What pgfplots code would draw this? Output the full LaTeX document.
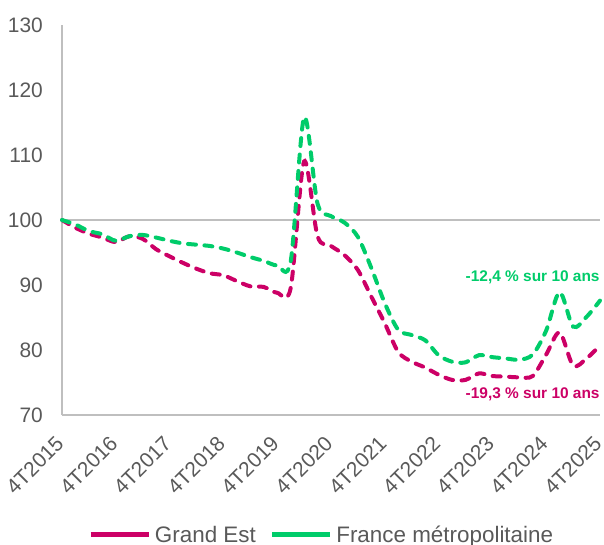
\documentclass[border=0pt]{standalone}
\usepackage{pgfplots}
\pgfplotsset{compat=1.18}
\usepackage{pgfplotstable}
\usepackage{fontspec}
\setmainfont{Liberation Sans}
\definecolor{ge}{HTML}{CC0066}
\definecolor{fr}{HTML}{00CC6A}
\definecolor{tickc}{HTML}{595959}
\definecolor{axc}{HTML}{BFBFBF}

\pgfplotstableread{
i ge fr
0 100 100
1 98.8 99.3
2 97.9 98.3
3 97.3 97.8
4 96.6 96.8
5 97.5 97.5
6 97.1 97.7
7 95.5 97.3
8 94.4 96.8
9 93.4 96.4
10 92.5 96.2
11 91.8 96.0
12 91.5 95.6
13 90.6 95.0
14 89.8 94.3
15 89.7 93.7
16 88.8 93.0
17 89.5 93.6
18 109.0 115.8
19 97.5 102.5
20 96.0 100.6
21 94.6 99.6
22 92.3 97.4
23 88.2 92.6
24 84.1 87.2
25 79.7 83.1
26 78.2 82.3
27 77.3 81.5
28 76.2 79.2
29 75.4 78.2
30 75.4 78.1
31 76.4 79.2
32 76.0 78.9
33 75.9 78.7
34 75.8 78.5
35 76.0 79.3
36 79.3 83.0
37 82.7 88.9
38 77.6 83.6
39 78.7 85.1
40 80.7 87.6
}\data

\begin{document}
\begin{tikzpicture}
\useasboundingbox (0,0) rectangle (604bp,545bp);
\begin{axis}[
  at={(62bp,130bp)}, anchor=south west,
  scale only axis, width=538bp, height=390bp,
  xmin=0, xmax=40, ymin=70, ymax=130,
  xtick={0,4,...,40},
  xticklabels={4T2015,4T2016,4T2017,4T2018,4T2019,4T2020,4T2021,4T2022,4T2023,4T2024,4T2025},
  ytick={70,80,...,130},
  axis x line*=bottom, axis y line*=left,
  axis line style={axc, line width=1.7bp, -},
  major tick length=0pt,
  tick style={draw=none},
  ticklabel style={font=\fontsize{21}{21}\selectfont, text=tickc},
  yticklabel style={anchor=east, inner sep=0pt, xshift=-19bp},
  xticklabel style={inner sep=0pt, xshift=-2bp, yshift=-25bp, rotate=45, anchor=east},
  /pgf/number format/assume math mode=true,
  clip=false,
  legend style={at={(0.481,-0.307)}, anchor=center, draw=none, fill=none,
    legend columns=-1, font=\fontsize{22.5}{22.5}\selectfont, text=tickc,
    nodes={inner sep=0pt},
    /tikz/every even column/.append style={column sep=14bp},
    /tikz/every odd column/.append style={column sep=4bp}},
  legend image code/.code={\draw[#1, solid, line width=4.5bp, line cap=butt] (0bp,0bp) -- (58bp,0bp);},
]
\addplot[axc, line width=2.7bp, forget plot] coordinates {(0,100) (40,100)};
\addplot[ge, line width=4bp, dash pattern=on 8bp off 8.5bp, line cap=round, smooth, tension=0.5] table[x=i,y=ge]{\data};
\addlegendentry{Grand Est}
\addplot[fr, line width=4bp, dash pattern=on 8bp off 8.5bp, line cap=round, smooth, tension=0.5] table[x=i,y=fr]{\data};
\addlegendentry{France métropolitaine}
\node[anchor=west, text=fr, font=\bfseries\fontsize{15.5}{15.5}\selectfont, inner sep=0pt] at (axis cs:30,91.2) {-12,4 \% sur 10 ans};
\node[anchor=west, text=ge, font=\bfseries\fontsize{15.5}{15.5}\selectfont, inner sep=0pt] at (axis cs:30,73.2) {-19,3 \% sur 10 ans};
\end{axis}
\end{tikzpicture}
\end{document}
